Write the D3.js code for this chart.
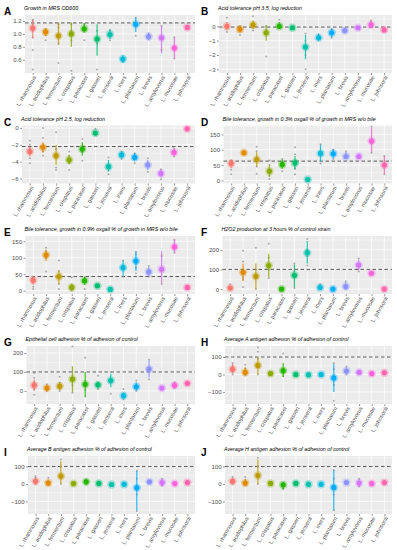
<!DOCTYPE html>
<html>
<head>
<meta charset="utf-8">
<script src="https://cdn.jsdelivr.net/npm/d3@7"></script>
<style>
  body { margin: 0; background: #fff; }
  svg { font-family: "Liberation Sans", Arial, sans-serif; }
</style>
</head>
<body>
<div id="chart"></div>
<script>
// Data
////////////////////////////////////////////////////////////////////
const categories = ["L. rhamnosus", "L. acidophilus", "L. fermentum", "L. crispatus",
  "L. paracasei", "L. gasseri", "L. jensenii", "L. iners", "L. plantarum",
  "L. brevis", "L. amylovorus", "L. mucosae", "L. johnsonii"];

const colors = ["#F8766D", "#E18A00", "#BE9C00", "#8CAB00", "#24B700", "#00BE70",
  "#00C1AB", "#00BBDA", "#00ACFC", "#8B93FF", "#D575FE", "#F962DD", "#FF65AC"];

const letters = ["A", "B", "C", "D", "E", "F", "G", "H", "I", "J"];
const titles = [
  "Growth in MRS OD600",
  "Acid tolerance pH 3.5, log reduction",
  "Acid tolerance pH 2.5, log reduction",
  "Bile tolerance, growth in 0.3% oxgall  % of growth in MRS w/o bile",
  "Bile tolerance, growth in 0.9% oxgall  % of growth in MRS w/o bile",
  "H2O2 production at 3 hours  % of control strain",
  "Epithelial cell adhesion  % of adhesion of control",
  "Average A antigen adhesion  % of adhesion of control",
  "Average B antigen adhesion  % of adhesion of control",
  "Average H antigen adhesion  % of adhesion of control"
];

// dashed reference line per panel
const refLines = [1.17, -0.05, -2.2, 63, 43, 100, 100, 100, 100, 100];

// y ticks per panel
const ticksA = [0.6, 0.8, 1.0, 1.2];
const ticksB = [-3, -2, -1, 0];
const ticksC = [-6, -4, -2, 0];
const ticksD = [0, 50, 100, 150];
const ticksE = [0, 50, 100, 150];
const ticksF = [0, 100, 200];
const ticksG = [0, 100, 200];
const ticksH = [-100, 0, 100];
const ticksI = [-100, 0, 100];
const ticksJ = [-100, 0, 100];

// y extent of each panel
const domainA = [0.394, 1.293];
const domainB = [-3.26, 0.79];
const domainC = [-6.6, 0.3];
const domainD = [-10, 179];
const domainE = [-10, 166];
const domainF = [-25, 270];
const domainG = [-69, 237];
const domainH = [-169, 163];
const domainI = [-172, 160];
const domainJ = [-172, 160];

// group means
const meanA = [1.09, 1.03, 0.97, 1.00, 1.08, 0.92, 0.99, 0.61, 1.15, 0.96, 0.94, 0.78, 1.10];
const meanB = [0.0, -0.2, 0.1, -0.45, 0.0, -0.1, -1.45, -0.8, -0.45, -0.3, -0.1, 0.1, -0.25];
const meanC = [-2.8, -2.3, -3.3, -3.8, -2.5, -0.6, -4.6, -3.2, -3.5, -4.4, -5.4, -2.9, -0.1];
const meanD = [55, 90, 68, 30, 52, 57, 3, 88, 87, 78, 78, 128, 50];
const meanE = [32, 108, 43, 10, 30, 15, 4, 70, 90, 57, 65, 133, 10];
const meanF = [5, 85, 65, 120, 0, 70, 185, 8, 0, 13, 122, 80, 0];
const meanG = [30, 15, 25, 62, 35, 32, 55, -25, 22, 115, 15, 30, 40];
const meanH = [30, 12, 52, 5, 22, 0, -2, 0, -20, 20, 12, 5, 10];
const meanI = [15, 5, 45, 2, 12, 3, -3, -2, -22, 12, 8, 2, 8];
const meanJ = [15, 5, 48, 3, -5, 3, -2, -2, -20, 8, 5, 2, 8];

// lower / upper end of the coloured range
const lowA = [0.93, 0.97, 0.83, 0.80, 1.02, 0.66, 0.92, 0.55, 1.03, 0.90, 0.70, 0.62, 1.08];
const highA = [1.22, 1.08, 1.18, 1.18, 1.17, 1.15, 1.08, 0.67, 1.26, 1.02, 1.13, 0.95, 1.12];
const lowB = [-0.3, -0.45, -0.2, -1.0, -0.1, -0.2, -2.3, -1.0, -0.75, -0.5, -0.15, -0.1, -0.4];
const highB = [0.3, 0.05, 0.4, 0.1, 0.3, 0.0, -0.6, -0.5, -0.15, -0.1, -0.05, 0.4, -0.1];
const lowC = [-3.4, -2.9, -4.4, -4.3, -3.3, -0.85, -5.2, -3.6, -3.9, -5.0, -5.9, -3.3, -0.15];
const highC = [-2.2, -1.7, -2.0, -3.2, -1.7, -0.35, -3.8, -2.8, -3.0, -3.8, -5.0, -2.5, -0.05];
const lowD = [40, 84, 45, 12, 38, 35, 0, 60, 72, 70, 70, 92, 22];
const highD = [68, 96, 92, 50, 68, 80, 6, 117, 102, 93, 88, 172, 80];
const lowE = [18, 90, 20, 2, 18, 10, 2, 45, 60, 45, 22, 115, 8];
const highE = [42, 125, 62, 22, 42, 20, 6, 92, 118, 72, 120, 155, 12];
const lowF = [0, 40, 0, 60, 0, 10, 130, 0, 0, 0, 95, 78, 0];
const highF = [15, 130, 130, 180, 3, 125, 245, 22, 4, 35, 150, 82, 2];
const lowG = [0, 5, 5, -5, -30, 15, 20, -40, 5, 70, 10, 18, 32];
const highG = [60, 28, 45, 130, 100, 50, 90, -8, 45, 160, 22, 42, 48];
const lowH = [5, -5, 0, 0, -15, -3, -5, -3, -100, 5, 0, 2, 0];
const highH = [60, 40, 100, 12, 65, 4, 2, 3, 60, 40, 25, 8, 22];
const lowI = [0, -5, 0, -2, 0, 0, -6, -5, -150, 5, -10, 0, 0];
const highI = [35, 25, 130, 6, 25, 6, 0, 2, 75, 18, 28, 4, 18];
const lowJ = [0, -5, 0, 0, -30, 0, -5, -5, -150, 5, -15, 0, 0];
const highJ = [35, 30, 140, 8, 5, 6, 1, 2, 80, 12, 28, 4, 18];

// individual strain values (grey dots), one list per species
const strainsA = [[0.45, 0.75, 0.95, 1.05, 1.15, 1.2, 1.22], [0.9, 0.98, 1.05, 1.08], [0.55, 0.85, 0.95, 1.1, 1.15],
  [0.43, 0.9, 1.05, 1.15], [0.9, 1.05, 1.15], [0.45, 0.85, 1.05], [0.9, 1.05], [0.58, 0.64], [0.97, 1.25],
  [0.92, 1.0], [0.75, 1.12], [0.62, 0.95], []];
const strainsB = [[-0.4, -0.1, 0.1, 0.6], [-0.6, -0.3, 0.0], [-0.3, 0.1, 0.7], [-2.1, -0.3, 0.0], [0.45, -0.1], [],
  [-3.0, -2.0, -1.0, -0.5], [-0.9, -0.6], [-0.8, -0.2], [], [], [0.4], []];
const strainsC = [[-4.2, -3.6, -3.0, -2.5, -2.0, -1.5], [-3.3, -2.8, -2.0, -1.2, 0.0], [-5.0, -4.7, -3.5, -2.5, -0.5],
  [-5.0, -4.2, -3.3, -2.8], [-3.9, -2.8, -2.2, -1.3], [-0.1], [-5.5, -4.5, -3.5], [-3.7, -2.8], [-4.2, -3.0],
  [-5.2, -3.6], [-6.1, -4.9], [-3.4, -2.4], []];
const strainsD = [[20, 35, 50, 60, 65], [85, 95], [22, 45, 70, 95, 110], [5, 15, 30, 50, 65], [30, 45, 60, 70],
  [20, 40, 60, 85, 108], [], [55, 118], [70, 100], [95], [], [90, 175], [20, 80]];
const strainsE = [[5, 12, 25, 38, 42], [58, 100, 120, 130], [5, 20, 40, 60, 92], [0, 10, 40], [5, 30, 40], [], [],
  [42, 92], [52, 70, 110, 118], [42, 75], [20, 105], [115, 155], []];
const strainsF = [[0, 5, 10, 25], [10, 50, 60, 100, 140, 195], [0, 60, 100, 210], [55, 100, 120, 160, 230], [0, 2],
  [5, 130], [120, 170, 200, 255], [0, 25], [0, 5], [0, 40], [90, 155], [], []];
const strainsG = [[-20, 10, 30, 45, 70, 95], [0, 20, 35], [0, 20, 45, 75], [-10, 30, 70, 235], [-30, 5, 40, 175],
  [10, 40, 80], [-15, 50, 100], [-45, 10], [0, 55], [60, 165], [], [15, 45], []];
const strainsH = [[0, 20, 45, 65], [-5, 10, 35, 55], [0, 40, 90, 130, 155], [0, 15], [-10, 10, 120], [], [], [],
  [-150, -60, -20, 30, 65], [0, 45], [], [], []];
const strainsI = [[0, 15, 35, 45], [-5, 10, 35], [0, 40, 100, 140], [], [0, 25], [], [], [],
  [-155, -60, -20, 30, 75], [], [-10, 30], [], []];
const strainsJ = [[0, 15, 40], [-5, 10, 40], [0, 40, 100, 150], [], [-30, 5], [], [], [],
  [-150, -60, -20, 30, 80], [], [-15, 30], [], []];

// Panels (built from the arrays above)
////////////////////////////////////////////////////////////////////
const panels = [
  { ticks: ticksA, domain: domainA, mean: meanA, low: lowA, high: highA, strains: strainsA, fmt: d3.format(".1f") },
  { ticks: ticksB, domain: domainB, mean: meanB, low: lowB, high: highB, strains: strainsB, fmt: d3.format("d") },
  { ticks: ticksC, domain: domainC, mean: meanC, low: lowC, high: highC, strains: strainsC, fmt: d3.format("d") },
  { ticks: ticksD, domain: domainD, mean: meanD, low: lowD, high: highD, strains: strainsD, fmt: d3.format("d") },
  { ticks: ticksE, domain: domainE, mean: meanE, low: lowE, high: highE, strains: strainsE, fmt: d3.format("d") },
  { ticks: ticksF, domain: domainF, mean: meanF, low: lowF, high: highF, strains: strainsF, fmt: d3.format("d") },
  { ticks: ticksG, domain: domainG, mean: meanG, low: lowG, high: highG, strains: strainsG, fmt: d3.format("d") },
  { ticks: ticksH, domain: domainH, mean: meanH, low: lowH, high: highH, strains: strainsH, fmt: d3.format("d") },
  { ticks: ticksI, domain: domainI, mean: meanI, low: lowI, high: highI, strains: strainsI, fmt: d3.format("d") },
  { ticks: ticksJ, domain: domainJ, mean: meanJ, low: lowJ, high: highJ, strains: strainsJ, fmt: d3.format("d") }
];

// Dimensions
////////////////////////////////////////////////////////////////////
const width = 397;
const height = 550;
const colX = [0, 197];
const rowTop = [0, 110.5, 221, 331, 441];
// left edge of the grey plot area inside its column
const plotLeft = [25, 22, 22, 26.5, 25.5, 25.5, 26.5, 28, 28, 28];
const plotRightOff = 195;
const plotTopOff = 15;
const plotBottomOff = 73;

const svg = d3.select("#chart")
  .append("svg")
  .attr("width", width)
  .attr("height", height);

panels.forEach((p, i) => {
  const x0 = colX[i % 2];
  const y0 = rowTop[Math.floor(i / 2)];
  const left = x0 + plotLeft[i];
  const right = x0 + plotRightOff;
  const top = y0 + plotTopOff;
  const bottom = y0 + plotBottomOff;

  const g = svg.append("g");

  // Scales
  const xScale = d3.scalePoint()
    .domain(categories)
    .range([left, right])
    .padding(0.6);

  const yScale = d3.scaleLinear()
    .domain(p.domain)
    .range([bottom, top]);

  // Panel background + grid
  g.append("rect")
    .attr("x", left).attr("y", top)
    .attr("width", right - left).attr("height", bottom - top)
    .attr("fill", "#EBEBEB");

  const step = p.ticks[1] - p.ticks[0];
  const minor = [p.ticks[0] - step / 2, ...p.ticks.map(t => t + step / 2)]
    .filter(v => v > p.domain[0] && v < p.domain[1]);

  g.selectAll(".minor")
    .data(minor)
    .join("line")
    .attr("x1", left).attr("x2", right)
    .attr("y1", d => yScale(d)).attr("y2", d => yScale(d))
    .attr("stroke", "#fff").attr("stroke-width", 0.35);

  g.selectAll(".major")
    .data(p.ticks)
    .join("line")
    .attr("x1", left).attr("x2", right)
    .attr("y1", d => yScale(d)).attr("y2", d => yScale(d))
    .attr("stroke", "#fff").attr("stroke-width", 0.7);

  g.selectAll(".vgrid")
    .data(categories)
    .join("line")
    .attr("x1", d => xScale(d)).attr("x2", d => xScale(d))
    .attr("y1", top).attr("y2", bottom)
    .attr("stroke", "#fff").attr("stroke-width", 0.7);

  // Axes
  const yAxis = d3.axisLeft(yScale)
    .tickValues(p.ticks)
    .tickFormat(p.fmt)
    .tickSize(2)
    .tickPadding(1.5);

  const yAxisGroup = g.append("g")
    .attr("transform", `translate(${left},0)`)
    .call(yAxis);
  yAxisGroup.select(".domain").remove();
  yAxisGroup.selectAll("line").attr("stroke", "#333").attr("stroke-width", 0.5);
  yAxisGroup.selectAll("text").attr("fill", "#4D4D4D").style("font-size", "6px");

  const xAxis = d3.axisBottom(xScale).tickSize(2).tickPadding(1.5);
  const xAxisGroup = g.append("g")
    .attr("transform", `translate(0,${bottom})`)
    .call(xAxis);
  xAxisGroup.select(".domain").remove();
  xAxisGroup.selectAll("line").attr("stroke", "#333").attr("stroke-width", 0.5);
  xAxisGroup.selectAll("text")
    .attr("fill", "#4D4D4D")
    .style("font-size", "5.6px")
    .attr("text-anchor", "end")
    .attr("dy", "0.35em")
    .attr("y", 0)
    .attr("x", 0)
    .attr("transform", "translate(1.5,3.2) rotate(-60)");

  // Reference line
  g.append("line")
    .attr("x1", left).attr("x2", right)
    .attr("y1", yScale(refLines[i])).attr("y2", yScale(refLines[i]))
    .attr("stroke", "#333")
    .attr("stroke-width", 0.8)
    .attr("stroke-dasharray", "3.5,2.5");

  // Strain points (grey)
  const strainData = p.strains.flatMap((vals, k) => vals.map(v => ({ k, v })));
  g.selectAll(".strain")
    .data(strainData)
    .join("circle")
    .attr("cx", d => xScale(categories[d.k]))
    .attr("cy", d => yScale(d.v))
    .attr("r", 1)
    .attr("fill", "#8a8a8a")
    .attr("opacity", 0.7);

  // Coloured ranges
  g.selectAll(".range")
    .data(categories)
    .join("line")
    .attr("x1", d => xScale(d)).attr("x2", d => xScale(d))
    .attr("y1", (d, k) => yScale(p.low[k]))
    .attr("y2", (d, k) => yScale(p.high[k]))
    .attr("stroke", (d, k) => colors[k])
    .attr("stroke-width", 1.2)
    .attr("opacity", 0.85);

  // Means (halo + point)
  g.selectAll(".halo")
    .data(categories)
    .join("circle")
    .attr("cx", d => xScale(d))
    .attr("cy", (d, k) => yScale(p.mean[k]))
    .attr("r", 4.2)
    .attr("fill", (d, k) => colors[k])
    .attr("opacity", 0.35);

  g.selectAll(".mean")
    .data(categories)
    .join("circle")
    .attr("cx", d => xScale(d))
    .attr("cy", (d, k) => yScale(p.mean[k]))
    .attr("r", 2.6)
    .attr("fill", (d, k) => colors[k]);

  // Letter + title
  g.append("text")
    .attr("x", x0 + 4)
    .attr("y", y0 + 15)
    .style("font-size", "10px")
    .style("font-weight", "bold")
    .attr("fill", "#000")
    .text(letters[i]);

  g.append("text")
    .attr("x", left - 1)
    .attr("y", y0 + 10)
    .style("font-size", "5.3px")
    .style("font-style", "italic")
    .attr("fill", "#000")
    .text(titles[i]);
});
</script>
</body>
</html>
